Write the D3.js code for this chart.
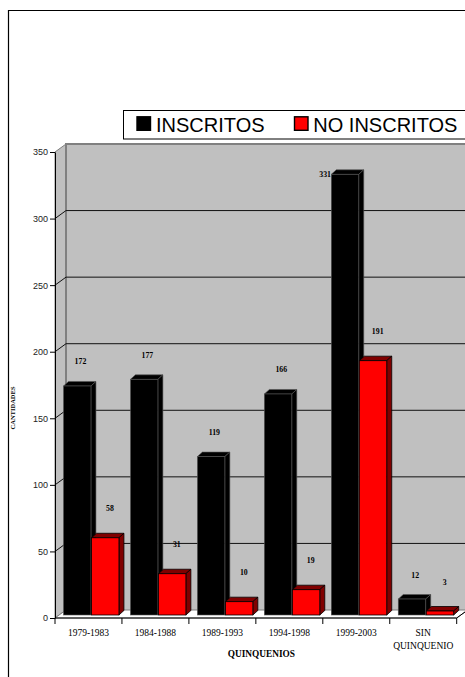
<!DOCTYPE html>
<html>
<head>
<meta charset="utf-8">
<script src="https://cdn.jsdelivr.net/npm/d3@7"></script>
<style>
  html, body { margin: 0; padding: 0; background: #fff; }
  svg { display: block; }
</style>
</head>
<body>
<svg id="chart" width="465" height="677"></svg>
<script>
// ---- data ----
const categories = ["1979-1983", "1984-1988", "1989-1993", "1994-1998", "1999-2003", "SIN QUINQUENIO"];
const inscritos = [172, 177, 119, 166, 331, 12];
const noInscritos = [58, 31, 10, 19, 191, 3];
const yTicks = [0, 50, 100, 150, 200, 250, 300, 350];
const seriesNames = ["INSCRITOS", "NO INSCRITOS"];
const yTitle = "CANTIDADES";
const xTitle = "QUINQUENIOS";

// ---- layout ----
const svg = d3.select("#chart");
const SERIF = "'Liberation Serif', 'Times New Roman', serif";
const SANS = "'Liberation Sans', Arial, sans-serif";

const x = d3.scaleBand().domain(categories).range([55, 456.7]).padding(0);
const y = d3.scaleLinear().domain([0, 350]).range([618, 152]);
const DX = 11, DY = -8;          // wall depth
const bdx = 5, bdy = -4.5;       // bar depth
const barBaseOff = -3;           // bars sit behind the front edge of floor

// outer frame
svg.append("path").attr("d", "M8.5,677 L8.5,10.5 L465,10.5")
  .attr("fill", "none").attr("stroke", "#000").attr("stroke-width", 1.2);

const x0 = x.range()[0], x1 = x.range()[1];
const yT = y(350), yB = y(0);

// side wall
svg.append("polygon")
  .attr("points", [[x0, yT], [x0 + DX, yT + DY], [x0 + DX, yB + DY], [x0, yB]].join(" "))
  .attr("fill", "#C0C0C0").attr("stroke", "#808080").attr("stroke-width", 1);
// back wall
svg.append("rect")
  .attr("x", x0 + DX).attr("y", yT + DY).attr("width", x1 - x0 + 2).attr("height", yB - yT)
  .attr("fill", "#C0C0C0");
svg.append("path")
  .attr("d", `M${x0 + DX},${yB + DY} L${x0 + DX},${yT + DY} L${x1 + DX + 2},${yT + DY}`)
  .attr("fill", "none").attr("stroke", "#808080").attr("stroke-width", 2);

// gridlines on back wall and side wall
const gridTicks = yTicks.filter(t => t > 0 && t < 350);
svg.append("g").selectAll("line.g").data(gridTicks).join("line")
  .attr("x1", x0 + DX).attr("x2", x1 + DX + 2)
  .attr("y1", d => y(d) + DY).attr("y2", d => y(d) + DY)
  .attr("stroke", "#111").attr("stroke-width", 1);
svg.append("g").selectAll("line.s").data(gridTicks).join("line")
  .attr("x1", x0).attr("x2", x0 + DX)
  .attr("y1", d => y(d)).attr("y2", d => y(d) + DY)
  .attr("stroke", "#111").attr("stroke-width", 1);

// floor
svg.append("polygon")
  .attr("points", [[x0, yB], [x0 + DX, yB + DY], [x1 + DX, yB + DY], [x1, yB]].join(" "))
  .attr("fill", "#fff").attr("stroke", "#808080").attr("stroke-width", 1);

// bars
const bw = x.bandwidth();
const barW = bw * 0.41;
const offs = [bw * 0.127, bw * 0.545];
const series = [inscritos, noInscritos];
const styles = [
  { front: "#000", top: "#000", side: "#000", stroke: "#555", sw: 0.6 },
  { front: "#FF0000", top: "#800000", side: "#800000", stroke: "#000", sw: 0.8 }
];

function bar3d(g, bx, v, st) {
  const base = y(0) + barBaseOff;
  const top = y(v) + barBaseOff;
  const w = barW;
  g.append("polygon")
    .attr("points", [[bx, top], [bx + bdx, top + bdy], [bx + w + bdx, top + bdy], [bx + w, top]].join(" "))
    .attr("fill", st.top).attr("stroke", st.stroke).attr("stroke-width", st.sw);
  g.append("polygon")
    .attr("points", [[bx + w, top], [bx + w + bdx, top + bdy], [bx + w + bdx, base + bdy], [bx + w, base]].join(" "))
    .attr("fill", st.side).attr("stroke", st.stroke).attr("stroke-width", st.sw);
  g.append("rect")
    .attr("x", bx).attr("y", top).attr("width", w).attr("height", base - top)
    .attr("fill", st.front).attr("stroke", st.stroke).attr("stroke-width", st.sw);
}

const barsG = svg.append("g");
categories.forEach((c, i) => {
  series.forEach((s, k) => {
    bar3d(barsG, x(c) + offs[k], s[i], styles[k]);
  });
});

// value labels
const labelOff = [24, 29];
const labelX = [bw * 0.38, bw * 0.82];
const plotTop = yT + DY;
const lblG = svg.append("g").attr("font-family", SERIF).attr("font-size", 7.8).attr("font-weight", "bold");
categories.forEach((c, i) => {
  series.forEach((s, k) => {
    const topY = y(s[i]) + barBaseOff;
    let ly = topY - labelOff[k];
    let lx = x(c) + labelX[k];
    let anchor = "middle";
    if (ly < plotTop + 12) {           // no room above: place beside the bar
      lx = x(c) + offs[k] - 0.3;
      ly = topY + 0.5;
      anchor = "end";
    }
    lblG.append("text").attr("x", lx).attr("y", ly)
      .attr("text-anchor", anchor).attr("dominant-baseline", "central")
      .text(s[i]);
  });
});

// y axis
const yAxis = d3.axisLeft(y).tickValues(yTicks).tickSize(5).tickSizeOuter(0).tickPadding(2);
const gy = svg.append("g").attr("transform", `translate(${x0},0)`).call(yAxis);
gy.select(".domain").attr("stroke", "#000");
gy.selectAll(".tick line").attr("stroke", "#000");
gy.selectAll(".tick text").attr("font-family", SANS).attr("font-size", 9).attr("fill", "#222");

// x axis: line, boundary ticks, labels
const boundaries = categories.map(c => x(c)).concat([x1]);
svg.append("line").attr("x1", x0).attr("x2", x1).attr("y1", yB).attr("y2", yB)
  .attr("stroke", "#000").attr("stroke-width", 1);
svg.append("line").attr("x1", x1).attr("x2", x1 + DX).attr("y1", yB).attr("y2", yB + DY)
  .attr("stroke", "#000").attr("stroke-width", 1);
svg.append("g").selectAll("line").data(boundaries).join("line")
  .attr("x1", d => d).attr("x2", d => d).attr("y1", yB).attr("y2", yB + 6)
  .attr("stroke", "#000").attr("stroke-width", 1);

const xl = svg.append("g").attr("font-family", SERIF).attr("font-size", 9.5).attr("fill", "#000");
categories.forEach(c => {
  const words = c.split(" ");
  const t = xl.append("text").attr("x", x(c) + bw / 2).attr("y", 636).attr("text-anchor", "middle");
  words.forEach((w, j) => {
    t.append("tspan").attr("x", x(c) + bw / 2).attr("dy", j === 0 ? 0 : 13).text(w);
  });
});

// axis titles
svg.append("text").attr("x", (x0 + x1 + DX) / 2).attr("y", 657.3)
  .attr("text-anchor", "middle").attr("font-family", SERIF).attr("font-size", 9.3)
  .attr("font-weight", "bold").text(xTitle);
svg.append("text").attr("transform", "translate(12.7,408) rotate(-90)")
  .attr("text-anchor", "middle").attr("dominant-baseline", "central")
  .attr("font-family", SERIF).attr("font-size", 6.5).attr("font-weight", "bold").text(yTitle);

// legend
const lg = svg.append("g");
lg.append("rect").attr("x", 123.5).attr("y", 110.5).attr("width", 400).attr("height", 28.5)
  .attr("fill", "#fff").attr("stroke", "#000").attr("stroke-width", 1);
const legItems = [
  { name: seriesNames[0], sx: 137, tx: 156, fill: "#000" },
  { name: seriesNames[1], sx: 294.5, tx: 313.3, fill: "#FF0000" }
];
legItems.forEach(it => {
  lg.append("rect").attr("x", it.sx).attr("y", 116.8).attr("width", 13.5).attr("height", 13.5)
    .attr("fill", it.fill).attr("stroke", "#000").attr("stroke-width", 1.4);
  lg.append("text").attr("x", it.tx).attr("y", 131.5)
    .attr("font-family", SANS).attr("font-size", 20).attr("fill", "#000").text(it.name);
});
</script>
</body>
</html>
